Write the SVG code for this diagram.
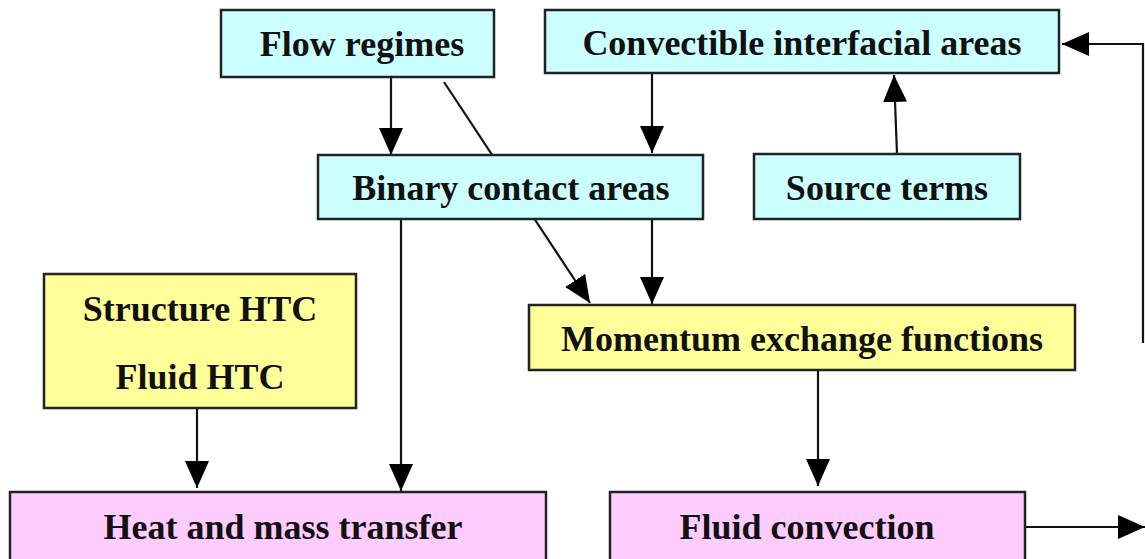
<svg xmlns="http://www.w3.org/2000/svg" width="1145" height="559" viewBox="0 0 1145 559">
<defs>
<marker id="ah" markerUnits="userSpaceOnUse" markerWidth="28" markerHeight="26" refX="27" refY="12" orient="auto">
<path d="M0,0 L27,12 L0,24 z" fill="#000"/>
</marker>
<style>
.box{stroke:#222;stroke-width:2.5}
.c{fill:#ccffff}
.y{fill:#ffff99}
.p{fill:#ffccff}
text{font-family:"Liberation Serif","Times New Roman",serif;font-weight:bold;font-size:36px;fill:#111;text-anchor:middle}
.ar{stroke:#111;stroke-width:2.2;fill:none;marker-end:url(#ah)}
</style>
</defs>
<rect width="1145" height="559" fill="#fff"/>
<g id="connectors">
<line class="ar" x1="444" y1="82" x2="590" y2="303"/>
<line class="ar" x1="391" y1="77" x2="391" y2="155"/>
<line class="ar" x1="652" y1="73" x2="652" y2="153"/>
<line class="ar" x1="897" y1="154" x2="894" y2="75"/>
<line class="ar" x1="652" y1="219" x2="652" y2="304"/>
<line class="ar" x1="401" y1="219" x2="401" y2="491"/>
<line class="ar" x1="197" y1="408" x2="197" y2="488"/>
<line class="ar" x1="818" y1="370" x2="818" y2="486"/>
<line class="ar" x1="1025" y1="527" x2="1145" y2="527"/>
<polyline class="ar" points="1143,343 1143,44 1062,44" stroke="#777"/>
</g>
<g id="flow-regimes"><rect class="box c" x="221" y="10" width="273" height="67"/><text x="362" y="56">Flow regimes</text></g>
<g id="convectible"><rect class="box c" x="545" y="10" width="514" height="63"/><text x="802" y="55">Convectible interfacial areas</text></g>
<g id="binary"><rect class="box c" x="318" y="155" width="385" height="64"/><text x="511" y="200">Binary contact areas</text></g>
<g id="source"><rect class="box c" x="754" y="154" width="266" height="65"/><text x="887" y="200">Source terms</text></g>
<g id="htc"><rect class="box y" x="44" y="274" width="312" height="134"/><text x="200" y="321">Structure HTC</text><text x="200" y="389">Fluid HTC</text></g>
<g id="momentum"><rect class="box y" x="529" y="305" width="546" height="65"/><text x="802" y="351">Momentum exchange functions</text></g>
<g id="heat"><rect class="box p" x="10" y="492" width="536" height="70"/><text x="283" y="539">Heat and mass transfer</text></g>
<g id="fluid"><rect class="box p" x="610" y="492" width="415" height="70"/><text x="807" y="539">Fluid convection</text></g>
</svg>
